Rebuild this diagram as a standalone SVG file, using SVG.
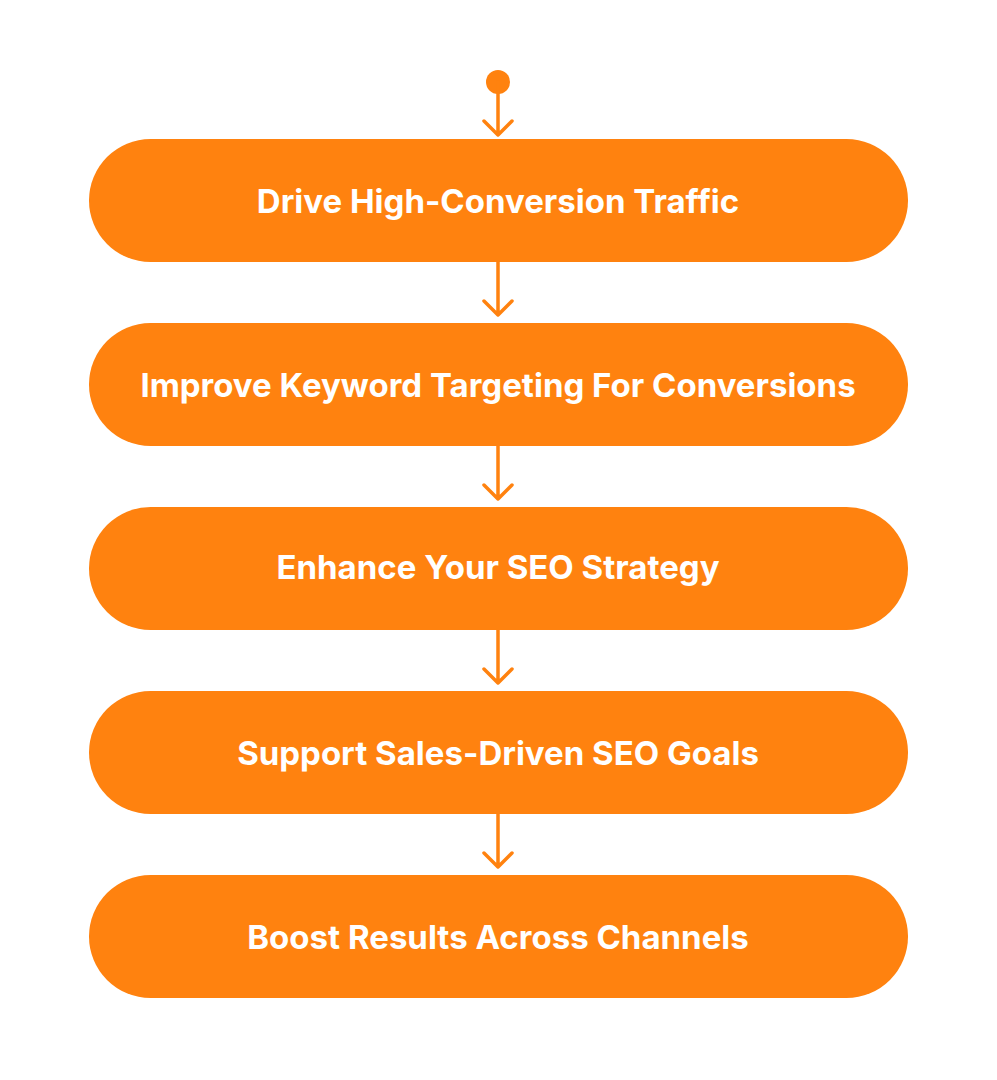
<svg xmlns="http://www.w3.org/2000/svg" width="997" height="1080" viewBox="0 0 997 1080">
<style>
.p{fill:#FF820F}
.t{fill:#fff;font-family:Inter,"Liberation Sans",sans-serif;font-weight:700;font-size:33px;text-anchor:middle;dominant-baseline:central}
.c{stroke:#FF820F;stroke-width:3.5;fill:none;stroke-linecap:round;stroke-linejoin:round}
</style>
<rect width="997" height="1080" fill="#fff"/>
<g id="connectors">
<circle cx="498" cy="82" r="12" fill="#FF820F"/>
<path class="c" d="M498 82V135M484 121L498 135L512 121"/>
<path class="c" d="M498 262V315M484 301L498 315L512 301"/>
<path class="c" d="M498 446V499M484 485L498 499L512 485"/>
<path class="c" d="M498 630V683M484 669L498 683L512 669"/>
<path class="c" d="M498 814V867M484 853L498 867L512 853"/>
</g>
<g id="n1"><rect class="p" x="89" y="139" width="819" height="123" rx="61.5"/><text class="t" x="498" y="201">Drive High-Conversion Traffic</text></g>
<g id="n2"><rect class="p" x="89" y="323" width="819" height="123" rx="61.5"/><text class="t" x="498" y="385">Improve Keyword Targeting For Conversions</text></g>
<g id="n3"><rect class="p" x="89" y="507" width="819" height="123" rx="61.5"/><text class="t" x="498" y="567">Enhance Your SEO Strategy</text></g>
<g id="n4"><rect class="p" x="89" y="691" width="819" height="123" rx="61.5"/><text class="t" x="498" y="753">Support Sales-Driven SEO Goals</text></g>
<g id="n5"><rect class="p" x="89" y="875" width="819" height="123" rx="61.5"/><text class="t" x="498" y="937">Boost Results Across Channels</text></g>
</svg>
